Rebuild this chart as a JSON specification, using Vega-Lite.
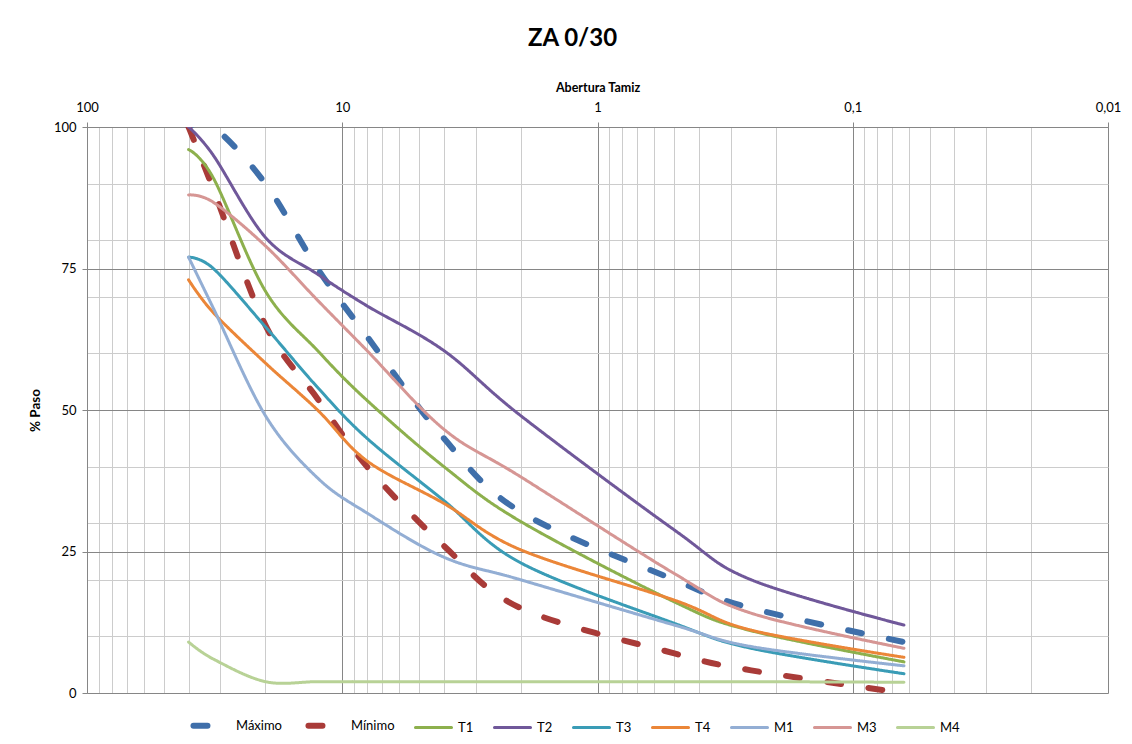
{
  "$schema": "https://vega.github.io/schema/vega-lite/v6.json",
  "width": 1021,
  "height": 566,
  "autosize": "none",
  "padding": {"left": 87, "top": 127, "right": 24, "bottom": 51},
  "background": "white",
  "config": {"view": {"stroke": null}, "font": "Lato"},
  "title": {"text": "ZA 0/30", "fontSize": 24, "fontWeight": "bold", "font": "Lato", "color": "black", "anchor": "middle", "dx": -25, "offset": 30},
  "data": {"values": [
    {"serie": "Máximo", "tamiz": 40, "paso": 100}, {"serie": "Máximo", "tamiz": 32, "paso": 100}, {"serie": "Máximo", "tamiz": 20, "paso": 90}, {"serie": "Máximo", "tamiz": 12.5, "paso": 75}, {"serie": "Máximo", "tamiz": 8, "paso": 63}, {"serie": "Máximo", "tamiz": 4, "paso": 45}, {"serie": "Máximo", "tamiz": 2, "paso": 32}, {"serie": "Máximo", "tamiz": 0.5, "paso": 20}, {"serie": "Máximo", "tamiz": 0.25, "paso": 15}, {"serie": "Máximo", "tamiz": 0.063, "paso": 9},
    {"serie": "Mínimo", "tamiz": 40, "paso": 100}, {"serie": "Mínimo", "tamiz": 32, "paso": 89}, {"serie": "Mínimo", "tamiz": 20, "paso": 65}, {"serie": "Mínimo", "tamiz": 12.5, "paso": 52}, {"serie": "Mínimo", "tamiz": 8, "paso": 40}, {"serie": "Mínimo", "tamiz": 4, "paso": 26}, {"serie": "Mínimo", "tamiz": 2, "paso": 15}, {"serie": "Mínimo", "tamiz": 0.5, "paso": 7}, {"serie": "Mínimo", "tamiz": 0.25, "paso": 4}, {"serie": "Mínimo", "tamiz": 0.063, "paso": 0},
    {"serie": "T1", "tamiz": 40, "paso": 96}, {"serie": "T1", "tamiz": 32, "paso": 91}, {"serie": "T1", "tamiz": 20, "paso": 71}, {"serie": "T1", "tamiz": 12.5, "paso": 60.5}, {"serie": "T1", "tamiz": 8, "paso": 51.7}, {"serie": "T1", "tamiz": 4, "paso": 40}, {"serie": "T1", "tamiz": 2, "paso": 30.3}, {"serie": "T1", "tamiz": 0.5, "paso": 16.1}, {"serie": "T1", "tamiz": 0.25, "paso": 11}, {"serie": "T1", "tamiz": 0.063, "paso": 5.5},
    {"serie": "T2", "tamiz": 40, "paso": 100}, {"serie": "T2", "tamiz": 32, "paso": 95}, {"serie": "T2", "tamiz": 20, "paso": 80.5}, {"serie": "T2", "tamiz": 12.5, "paso": 74}, {"serie": "T2", "tamiz": 8, "paso": 68.4}, {"serie": "T2", "tamiz": 4, "paso": 60.5}, {"serie": "T2", "tamiz": 2, "paso": 49}, {"serie": "T2", "tamiz": 0.5, "paso": 28.8}, {"serie": "T2", "tamiz": 0.25, "paso": 20}, {"serie": "T2", "tamiz": 0.063, "paso": 12},
    {"serie": "T3", "tamiz": 40, "paso": 77}, {"serie": "T3", "tamiz": 32, "paso": 75}, {"serie": "T3", "tamiz": 20, "paso": 64.7}, {"serie": "T3", "tamiz": 12.5, "paso": 54}, {"serie": "T3", "tamiz": 8, "paso": 45}, {"serie": "T3", "tamiz": 4, "paso": 34}, {"serie": "T3", "tamiz": 2, "paso": 23}, {"serie": "T3", "tamiz": 0.5, "paso": 12.3}, {"serie": "T3", "tamiz": 0.25, "paso": 7.9}, {"serie": "T3", "tamiz": 0.063, "paso": 3.4},
    {"serie": "T4", "tamiz": 40, "paso": 73}, {"serie": "T4", "tamiz": 32, "paso": 67.2}, {"serie": "T4", "tamiz": 20, "paso": 58.3}, {"serie": "T4", "tamiz": 12.5, "paso": 50}, {"serie": "T4", "tamiz": 8, "paso": 41}, {"serie": "T4", "tamiz": 4, "paso": 33.5}, {"serie": "T4", "tamiz": 2, "paso": 25.3}, {"serie": "T4", "tamiz": 0.5, "paso": 16.4}, {"serie": "T4", "tamiz": 0.25, "paso": 11.1}, {"serie": "T4", "tamiz": 0.063, "paso": 6.3},
    {"serie": "M1", "tamiz": 40, "paso": 77}, {"serie": "M1", "tamiz": 32, "paso": 68}, {"serie": "M1", "tamiz": 20, "paso": 49}, {"serie": "M1", "tamiz": 12.5, "paso": 38}, {"serie": "M1", "tamiz": 8, "paso": 31.8}, {"serie": "M1", "tamiz": 4, "paso": 24}, {"serie": "M1", "tamiz": 2, "paso": 20}, {"serie": "M1", "tamiz": 0.5, "paso": 12}, {"serie": "M1", "tamiz": 0.25, "paso": 8.2}, {"serie": "M1", "tamiz": 0.063, "paso": 4.8},
    {"serie": "M3", "tamiz": 40, "paso": 88}, {"serie": "M3", "tamiz": 32, "paso": 86.7}, {"serie": "M3", "tamiz": 20, "paso": 79}, {"serie": "M3", "tamiz": 12.5, "paso": 69.4}, {"serie": "M3", "tamiz": 8, "paso": 60.5}, {"serie": "M3", "tamiz": 4, "paso": 46.6}, {"serie": "M3", "tamiz": 2, "paso": 38.2}, {"serie": "M3", "tamiz": 0.5, "paso": 21.1}, {"serie": "M3", "tamiz": 0.25, "paso": 14.1}, {"serie": "M3", "tamiz": 0.063, "paso": 7.9},
    {"serie": "M4", "tamiz": 40, "paso": 9}, {"serie": "M4", "tamiz": 32, "paso": 6}, {"serie": "M4", "tamiz": 20, "paso": 2}, {"serie": "M4", "tamiz": 12.5, "paso": 2}, {"serie": "M4", "tamiz": 8, "paso": 2}, {"serie": "M4", "tamiz": 4, "paso": 2}, {"serie": "M4", "tamiz": 2, "paso": 2}, {"serie": "M4", "tamiz": 0.5, "paso": 2}, {"serie": "M4", "tamiz": 0.25, "paso": 2}, {"serie": "M4", "tamiz": 0.063, "paso": 1.9}
  ]},
  "layer": [
    {
      "mark": {"type": "point", "opacity": 0},
      "encoding": {
        "x": {"field": "tamiz", "type": "quantitative",
          "scale": {"type": "log", "domain": [0.01, 100], "reverse": true, "nice": false},
          "axis": {"orient": "bottom", "values": [90, 80, 70, 60, 50, 40, 30, 20, 9, 8, 7, 6, 5, 4, 3, 2, 0.9, 0.8, 0.7, 0.6, 0.5, 0.4, 0.3, 0.2, 0.09, 0.08, 0.07, 0.06, 0.05, 0.04, 0.03, 0.02],
            "grid": true, "gridColor": "#CCCCCC", "gridWidth": 1, "labels": false, "ticks": false, "domain": false, "title": null}},
        "y": {"field": "paso", "type": "quantitative",
          "scale": {"domain": [0, 100], "nice": false},
          "axis": {"orient": "right", "values": [10, 20, 30, 40, 60, 70, 80, 90],
            "grid": true, "gridColor": "#CCCCCC", "gridWidth": 1, "labels": false, "ticks": false, "domain": false, "title": null}}
      }
    },
    {
      "mark": {"type": "line", "interpolate": "cardinal", "strokeCap": "round", "strokeJoin": "round", "clip": true},
      "encoding": {
        "x": {"field": "tamiz", "type": "quantitative",
          "scale": {"type": "log", "domain": [0.01, 100], "reverse": true, "nice": false},
          "axis": {"orient": "top", "values": [100, 10, 1, 0.1, 0.01],
            "labelExpr": "replace(format(datum.value, '~g'), '.', ',')",
            "grid": true, "gridColor": "#868686", "gridWidth": 1,
            "domain": true, "domainColor": "#868686", "ticks": true, "tickColor": "#868686", "tickSize": 5,
            "labelFont": "Lato", "labelFontSize": 13, "labelColor": "black", "labelPadding": 8, "labelFlush": false,
            "title": "Abertura Tamiz", "titleFont": "Lato", "titleFontSize": 12.5, "titleFontWeight": "bold", "titleColor": "black", "titlePadding": 7}},
        "y": {"field": "paso", "type": "quantitative",
          "scale": {"domain": [0, 100], "nice": false},
          "axis": {"orient": "left", "values": [0, 25, 50, 75, 100],
            "grid": true, "gridColor": "#868686", "gridWidth": 1,
            "domain": true, "domainColor": "#868686", "ticks": true, "tickColor": "#868686", "tickSize": 5,
            "labelFont": "Lato", "labelFontSize": 13, "labelColor": "black", "labelPadding": 6,
            "title": "% Paso", "titleFont": "Lato", "titleFontSize": 13.5, "titleFontWeight": "bold", "titleColor": "black", "titlePadding": 11}},
        "color": {"field": "serie", "type": "nominal",
          "scale": {"domain": ["Máximo", "Mínimo", "T1", "T2", "T3", "T4", "M1", "M3", "M4"],
            "range": ["#3F6FAA", "#A93B38", "#8DB04D", "#70589A", "#3A9CB6", "#EB8638", "#93AED4", "#D69694", "#B8D296"]},
          "legend": {"orient": "none", "legendX": 103, "legendY": 577, "direction": "horizontal", "columns": 9, "title": null,
            "symbolType": "stroke", "symbolSize": 1300, "labelFont": "Lato", "labelFontSize": 13, "labelColor": "black",
            "columnPadding": 14, "labelOffset": 3,
            "encode": {"symbols": {"update": {"strokeCap": {"value": "round"}}}}}},
        "strokeDash": {"field": "serie", "type": "nominal",
          "scale": {"domain": ["Máximo", "Mínimo", "T1", "T2", "T3", "T4", "M1", "M3", "M4"],
            "range": [[14, 27.5], [14, 27.5], [1, 0], [1, 0], [1, 0], [1, 0], [1, 0], [1, 0], [1, 0]]}},
        "strokeWidth": {"field": "serie", "type": "nominal",
          "scale": {"type": "ordinal", "domain": ["Máximo", "Mínimo", "T1", "T2", "T3", "T4", "M1", "M3", "M4"],
            "range": [6, 6, 3, 3, 3, 3, 3, 3, 3]}}
      }
    }
  ],
  "resolve": {"axis": {"x": "independent", "y": "independent"}}
}
